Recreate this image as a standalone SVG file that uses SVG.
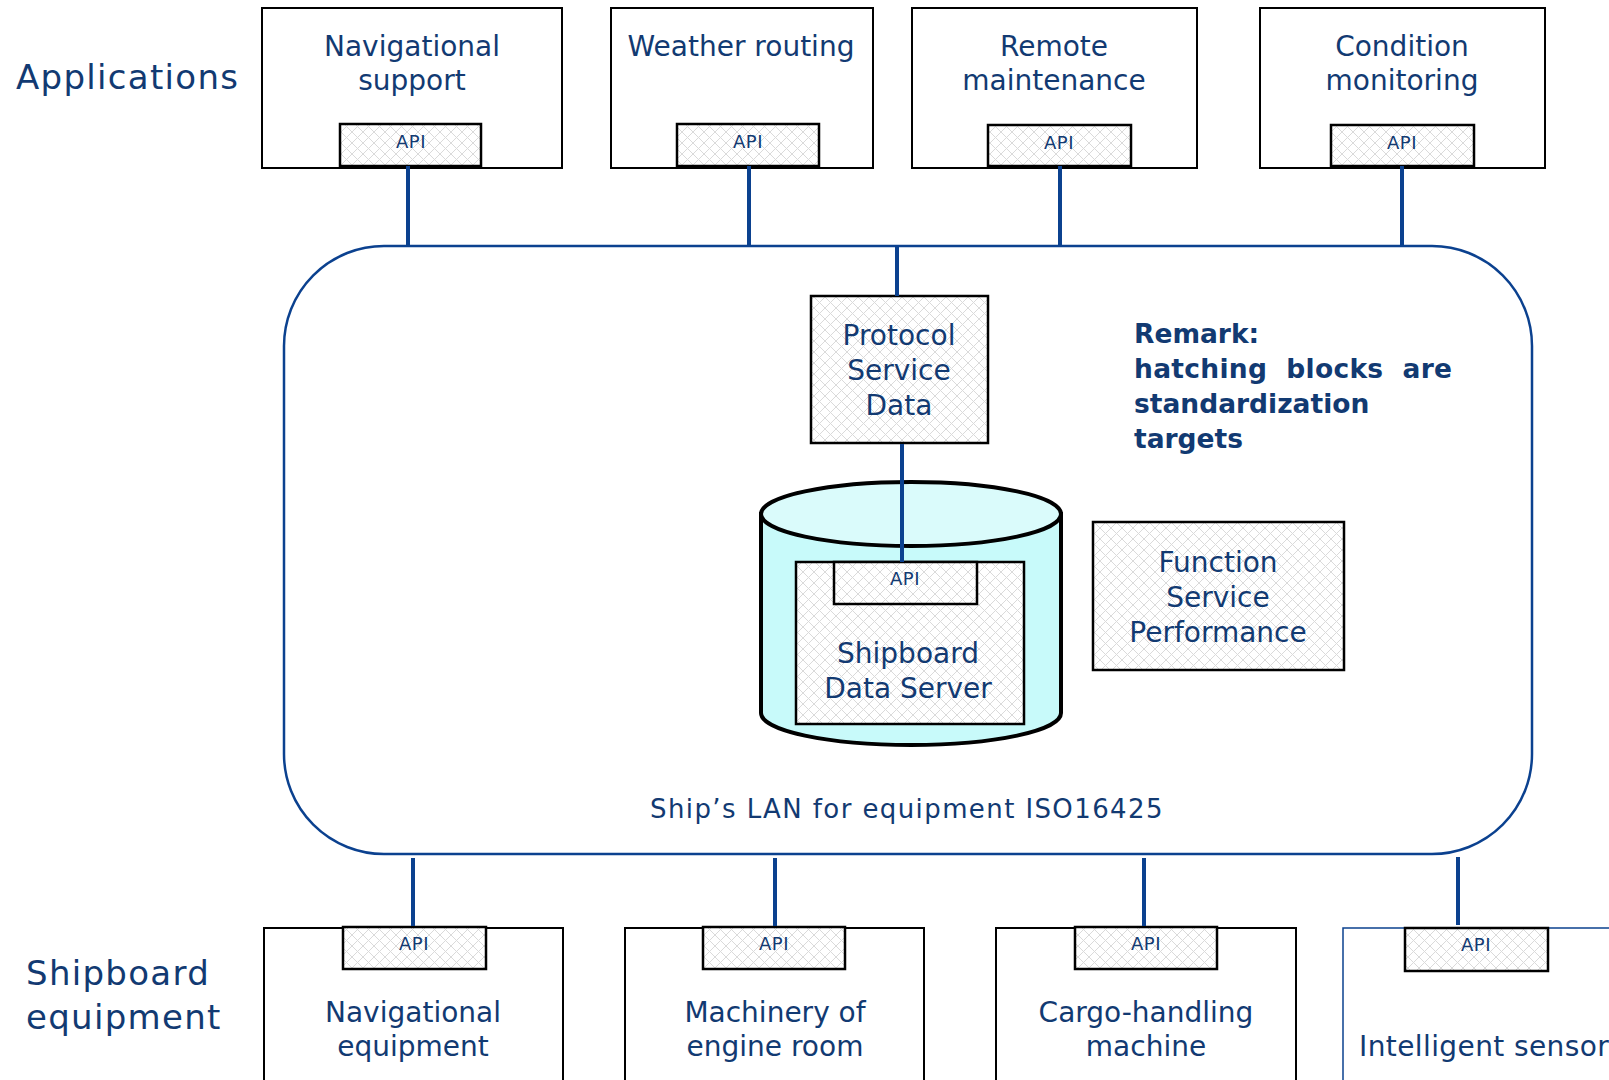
<svg xmlns="http://www.w3.org/2000/svg" width="1609" height="1080" viewBox="0 0 1609 1080">
  <defs>
    <pattern id="hatch" width="11" height="11" patternUnits="userSpaceOnUse">
      <rect width="11" height="11" fill="#ffffff"/>
      <path d="M0,0 L11,11 M11,0 L0,11" stroke="#dadada" stroke-width="1"/>
    </pattern>
    <style>
      .txt { font-family: "DejaVu Sans", Verdana, sans-serif; fill: #123a72; text-anchor: middle; }
      .lbl { font-size: 28px; }
      .big { font-size: 34px; letter-spacing: 1.3px; text-anchor: start; }
      .api { font-size: 18px; letter-spacing: 0.5px; }
      .bold { font-weight: bold; font-size: 26.5px; text-anchor: start; }
      .box { fill: #ffffff; stroke: #000000; stroke-width: 2; }
      .hbox { fill: url(#hatch); stroke: #000000; stroke-width: 2.5; }
      .conn { stroke: #0b418f; stroke-width: 4; fill: none; }
    </style>
  </defs>

  <rect width="1609" height="1080" fill="#ffffff"/>

  <!-- side headings -->
  <text class="txt big" x="16" y="89">Applications</text>
  <text class="txt big" x="26" y="985">Shipboard</text>
  <text class="txt big" x="26" y="1029">equipment</text>

  <!-- ship LAN -->
  <g id="lan">
    <rect x="284" y="246" width="1248" height="608" rx="100" ry="100" fill="none" stroke="#0b418f" stroke-width="2.5"/>
    <text class="txt" x="907" y="818" style="font-size:26px; letter-spacing:1.4px">Ship’s LAN for equipment ISO16425</text>
  </g>

  <!-- applications -->
  <g id="app-nav-support">
    <rect class="box" x="262" y="8" width="300" height="160"/>
    <text class="txt lbl" x="412" y="56">Navigational</text>
    <text class="txt lbl" x="412" y="90">support</text>
    <rect class="hbox" x="340" y="124" width="141" height="42"/>
    <text class="txt api" x="411" y="148">API</text>
  </g>
  <g id="app-weather">
    <rect class="box" x="611" y="8" width="262" height="160"/>
    <text class="txt lbl" x="741" y="56">Weather routing</text>
    <rect class="hbox" x="677" y="124" width="142" height="42"/>
    <text class="txt api" x="748" y="148">API</text>
  </g>
  <g id="app-remote">
    <rect class="box" x="912" y="8" width="285" height="160"/>
    <text class="txt lbl" x="1054" y="56">Remote</text>
    <text class="txt lbl" x="1054" y="90">maintenance</text>
    <rect class="hbox" x="988" y="125" width="143" height="41"/>
    <text class="txt api" x="1059" y="149">API</text>
  </g>
  <g id="app-condition">
    <rect class="box" x="1260" y="8" width="285" height="160"/>
    <text class="txt lbl" x="1402" y="56">Condition</text>
    <text class="txt lbl" x="1402" y="90">monitoring</text>
    <rect class="hbox" x="1331" y="125" width="143" height="41"/>
    <text class="txt api" x="1402" y="149">API</text>
  </g>

  <!-- LAN services -->
  <g id="protocol-service-data">
    <rect class="hbox" x="811" y="296" width="177" height="147"/>
    <text class="txt lbl" x="899" y="345">Protocol</text>
    <text class="txt lbl" x="899" y="380">Service</text>
    <text class="txt lbl" x="899" y="415">Data</text>
  </g>

  <g id="remark">
    <text class="txt bold" x="1134" y="343">Remark:</text>
    <text class="txt bold" x="1134" y="378" textLength="318" lengthAdjust="spacing" xml:space="preserve">hatching  blocks  are</text>
    <text class="txt bold" x="1134" y="413">standardization</text>
    <text class="txt bold" x="1134" y="448">targets</text>
  </g>

  <g id="shipboard-data-server">
    <path d="M761,514 L761,713 A150,32 0 0 0 1061,713 L1061,514 Z" fill="#c8fafa" stroke="#000000" stroke-width="4"/>
    <ellipse cx="911" cy="514" rx="150" ry="32" fill="#dafbfb" stroke="#000000" stroke-width="4"/>
    <rect class="hbox" x="796" y="562" width="228" height="162"/>
    <rect class="hbox" x="834" y="562" width="143" height="42"/>
    <text class="txt api" x="905" y="585">API</text>
    <text class="txt lbl" x="908" y="663">Shipboard</text>
    <text class="txt lbl" x="908" y="698">Data Server</text>
  </g>

  <g id="function-service-performance">
    <rect class="hbox" x="1093" y="522" width="251" height="148"/>
    <text class="txt lbl" x="1218" y="572">Function</text>
    <text class="txt lbl" x="1218" y="607">Service</text>
    <text class="txt lbl" x="1218" y="642">Performance</text>
  </g>

  <!-- shipboard equipment -->
  <g id="eq-nav">
    <rect class="box" x="264" y="928" width="299" height="160"/>
    <rect class="hbox" x="343" y="927" width="143" height="42"/>
    <text class="txt api" x="414" y="950">API</text>
    <text class="txt lbl" x="413" y="1022">Navigational</text>
    <text class="txt lbl" x="413" y="1056">equipment</text>
  </g>
  <g id="eq-machinery">
    <rect class="box" x="625" y="928" width="299" height="160"/>
    <rect class="hbox" x="703" y="927" width="142" height="42"/>
    <text class="txt api" x="774" y="950">API</text>
    <text class="txt lbl" x="775" y="1022">Machinery of</text>
    <text class="txt lbl" x="775" y="1056">engine room</text>
  </g>
  <g id="eq-cargo">
    <rect class="box" x="996" y="928" width="300" height="160"/>
    <rect class="hbox" x="1075" y="927" width="142" height="42"/>
    <text class="txt api" x="1146" y="950">API</text>
    <text class="txt lbl" x="1146" y="1022">Cargo-handling</text>
    <text class="txt lbl" x="1146" y="1056">machine</text>
  </g>
  <g id="eq-sensor">
    <rect x="1343" y="928" width="300" height="160" fill="#ffffff" stroke="#0b418f" stroke-width="1.5"/>
    <rect class="hbox" x="1405" y="928" width="143" height="43"/>
    <text class="txt api" x="1476" y="951">API</text>
    <text class="txt lbl" x="1359" y="1056" style="text-anchor:start; letter-spacing:0.4px">Intelligent sensor</text>
  </g>

  <!-- connectors -->
  <g id="connectors">
    <line class="conn" x1="408" y1="166" x2="408" y2="246"/>
    <line class="conn" x1="749" y1="166" x2="749" y2="246"/>
    <line class="conn" x1="1060" y1="166" x2="1060" y2="246"/>
    <line class="conn" x1="1402" y1="166" x2="1402" y2="246"/>
    <line class="conn" x1="897" y1="246" x2="897" y2="296"/>
    <line class="conn" x1="902" y1="444" x2="902" y2="562"/>
    <line class="conn" x1="413" y1="858" x2="413" y2="926"/>
    <line class="conn" x1="775" y1="858" x2="775" y2="926"/>
    <line class="conn" x1="1144" y1="858" x2="1144" y2="926"/>
    <line class="conn" x1="1458" y1="857" x2="1458" y2="925"/>
  </g>
</svg>
